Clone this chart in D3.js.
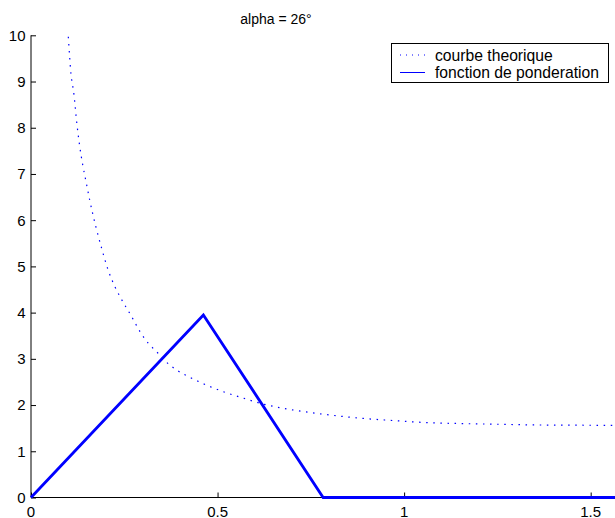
<!DOCTYPE html>
<html><head><meta charset="utf-8">
<script src="https://cdn.jsdelivr.net/npm/d3@7"></script>
<style>
body{margin:0;background:#fff;}
svg{display:block;font-family:"Liberation Sans",Arial,Helvetica,sans-serif;}
</style></head>
<body><svg id="c" width="615" height="518"></svg>
<script>
// theoretical curve (dotted)
const curveX = [0.100,0.107,0.115,0.1225,0.1295,0.1385,0.1456,0.158,0.175,0.1894,0.2055,0.225,0.2403,0.27,0.292,0.314,0.337,0.355,0.39,0.426,0.471,0.515,0.569,0.623,0.676,0.730,0.801,0.891,0.980,1.061,1.15,1.25,1.35,1.45,1.5708];
const curveY = [9.97,9.18,8.73,8.12,7.66,7.20,6.91,6.41,5.82,5.39,4.95,4.56,4.32,3.91,3.59,3.34,3.15,2.99,2.76,2.60,2.43,2.29,2.15,2.02,1.93,1.86,1.785,1.71,1.66,1.62,1.60,1.585,1.57,1.565,1.56];
// weighting function (solid)
const weightX = [0, 0.462, 0.783, 1.5708];
const weightY = [0, 3.95, 0, 0];
const xTicks = [0, 0.5, 1, 1.5];
const xTickLabels = ["0", "0.5", "1", "1.5"];
const yTicks = [0,1,2,3,4,5,6,7,8,9,10];
const yTickLabels = ["0","1","2","3","4","5","6","7","8","9","10"];
const titleText = "alpha = 26\u00B0";
const legendLabels = ["courbe theorique", "fonction de ponderation"];

const svg = d3.select("#c");
const x = d3.scaleLinear().domain([0, Math.PI/2]).range([31, 617.1]);
const y = d3.scaleLinear().domain([0, 10]).range([497.5, 35.3]);

// axes
const gx = svg.append("g").attr("transform", `translate(0,${y(0)})`)
  .call(d3.axisTop(x).tickValues(xTicks).tickSize(5).tickFormat(()=>""));
gx.select(".domain").attr("stroke","#000").attr("d", `M${x(0)},0H${x(Math.PI/2)}`);
gx.selectAll(".tick line").attr("stroke","#000");
svg.append("g").selectAll("text").data(xTicks).join("text")
  .attr("x", d=>x(d)).attr("y", 516.5).attr("text-anchor","middle")
  .attr("font-size", 15).attr("fill","#000").text((d,i)=>xTickLabels[i]);

const gy = svg.append("g").attr("transform", `translate(${x(0)},0)`)
  .call(d3.axisRight(y).tickValues(yTicks).tickSize(5).tickFormat(()=>""));
gy.select(".domain").attr("stroke","#000").attr("d", `M0,${y(0)}V${y(10)}`);
gy.selectAll(".tick line").attr("stroke","#000");
svg.append("g").selectAll("text").data(yTicks).join("text")
  .attr("x", 25.5).attr("y", d=>y(d)).attr("dy","0.36em").attr("text-anchor","end")
  .attr("font-size", 15).attr("fill","#000").text((d,i)=>yTickLabels[i]);

// lines
const curveData = curveX.map((v,i)=>[v, curveY[i]]);
const weightData = weightX.map((v,i)=>[v, weightY[i]]);
svg.append("path").datum(curveData)
  .attr("d", d3.line().x(d=>x(d[0])).y(d=>y(d[1])).curve(d3.curveMonotoneX))
  .attr("fill","none").attr("stroke","#0000ff").attr("stroke-width",1.2)
  .attr("stroke-dasharray","1.5,5.6");
svg.append("path").datum(weightData)
  .attr("d", d3.line().x(d=>x(d[0])).y(d=>y(d[1])))
  .attr("fill","none").attr("stroke","#0000ff").attr("stroke-width",2.8)
  .attr("stroke-linejoin","miter");

// title
svg.append("text").attr("x", 276).attr("y", 23.5).attr("text-anchor","middle")
  .attr("font-size", 14).attr("fill","#000").text(titleText);

// legend
const lg = svg.append("g");
lg.append("rect").attr("x", 391.5).attr("y", 43.5).attr("width", 217).attr("height", 39)
  .attr("fill","#fff").attr("stroke","#000").attr("stroke-width",1);
lg.append("line").attr("x1",400).attr("x2",425).attr("y1",55).attr("y2",55)
  .attr("stroke","#0000ff").attr("stroke-width",1).attr("stroke-dasharray","1,5");
lg.append("line").attr("x1",400).attr("x2",425).attr("y1",72.5).attr("y2",72.5)
  .attr("stroke","#0000ff").attr("stroke-width",1);
lg.selectAll("text.l").data(legendLabels).join("text").attr("class","l")
  .attr("x", 435).attr("y", (d,i)=>55 + i*17.5).attr("dy","0.36em")
  .attr("font-size", 15.7).attr("fill","#000").text(d=>d);
</script></body></html>
